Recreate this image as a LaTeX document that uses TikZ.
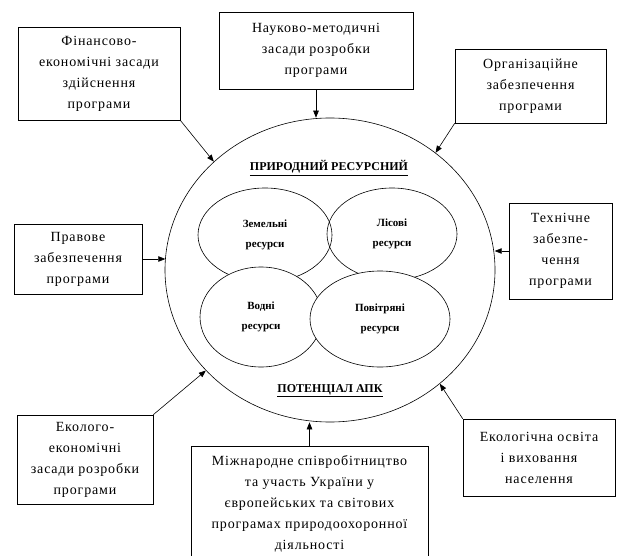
\documentclass[tikz,border=0pt]{standalone}
\usepackage{fontspec}
\setmainfont{Liberation Serif}
\newfontfamily\boxfont[LetterSpace=6]{Liberation Serif}
\usetikzlibrary{shapes.geometric,arrows.meta}
\begin{document}
\begin{tikzpicture}[x=1pt,y=-1pt,
  box/.style={draw, line width=0.7pt, align=center, inner sep=0pt,
    font=\boxfont\fontsize{14}{21}\selectfont},
  res/.style={draw, ellipse, line width=0.6pt, inner sep=0pt, align=center,
    font=\bfseries\fontsize{11}{20}\selectfont},
  ttl/.style={font=\bfseries\fontsize{12}{14}\selectfont, inner sep=0pt},
  arr/.style={-{Triangle[length=7pt,width=5.5pt]}, line width=0.6pt},
]
\useasboundingbox (0,0) rectangle (618,556);
% big ellipse
\node[draw, ellipse, line width=0.6pt, minimum width=330pt, minimum height=304pt, inner sep=0pt] (pot) at (330,270) {};
\node[ttl] (t1) at (329,168) {\underline{ПРИРОДНИЙ РЕСУРСНИЙ}};
\node[ttl] (t2) at (330,391) {\underline{ПОТЕНЦІАЛ АПК}};
% inner ellipses
\node[res, minimum width=134pt, minimum height=94pt] (zem) at (265,235) {Земельні\\ресурси};
\node[res, minimum width=130pt, minimum height=92pt] (lis) at (392,234) {Лісові\\ресурси};
\node[res, fill=white, minimum width=122pt, minimum height=100pt] (vod) at (261,317) {Водні\\ресурси};
\node[res, fill=white, minimum width=140pt, minimum height=96pt] (pov) at (380,319) {Повітряні\\ресурси};
% boxes
\node[box, minimum width=162pt, minimum height=93pt] (fin) at (99,73.5) {Фінансово-\\економічні засади\\здійснення\\програми};
\node[box, minimum width=194pt, minimum height=77pt] (nauk) at (316,50.5) {Науково-методичні\\засади розробки\\програми};
\node[box, minimum width=151pt, minimum height=74pt] (org) at (530.5,86) {Організаційне\\забезпечення\\програми};
\node[box, minimum width=128pt, minimum height=70pt] (prav) at (78,259) {Правове\\забезпечення\\програми};
\node[box, minimum width=103pt, minimum height=96pt] (tech) at (560.5,251) {Технічне\\забезпе-\\чення\\програми};
\node[box, minimum width=136pt, minimum height=89pt] (eke) at (85,459.5) {Еколого-\\економічні\\засади розробки\\програми};
\node[box, minimum width=237pt, minimum height=116pt] (mizh) at (309.5,504) {Міжнародне співробітництво\\та участь України у\\європейських та світових\\програмах природоохоронної\\діяльності};
\node[box, minimum width=152pt, minimum height=77pt] (osv) at (539,457.5) {Екологічна освіта\\і виховання\\населення};
% arrows
\draw[arr] (fin.south east) -- (pot.137);
\draw[arr] (nauk.south) -- (nauk.south |- pot.north);
\draw[arr] (org.south west) -- (pot.48);
\draw[arr] (prav.east) -- ([xshift=0.6pt]prav.east -| pot.west);
\draw[arr] (tech.west) -- ([xshift=-0.6pt]tech.west -| pot.east);
\draw[arr] (eke.north east) -- (pot.219);
\draw[arr] (mizh.north) -- (mizh.north |- pot.south);
\draw[arr] (osv.north west) -- (pot.314);
\end{tikzpicture}
\end{document}
